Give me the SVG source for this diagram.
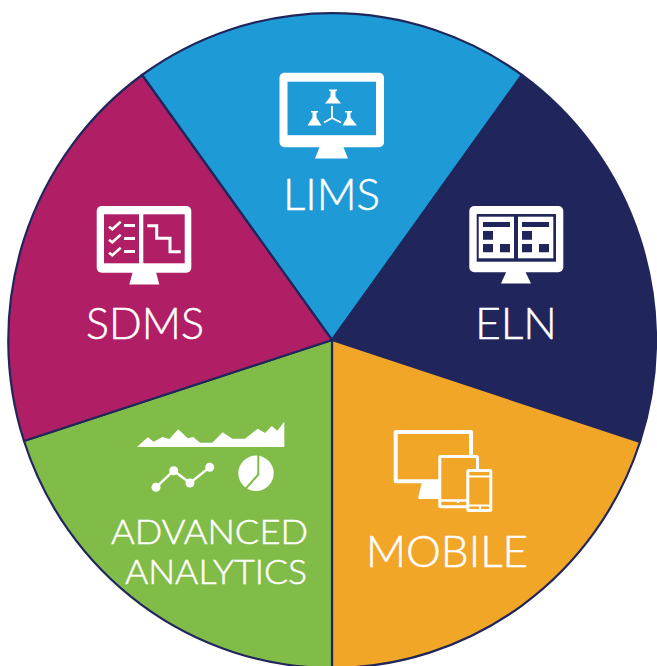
<svg xmlns="http://www.w3.org/2000/svg" width="657" height="666" viewBox="0 0 657 666">
<style>
.wedge{stroke:#20265c;stroke-width:2.200;stroke-linejoin:round}
.w{fill:#fff}
.o{fill:none;stroke:#fff}
text{font-family:"Lato","Liberation Sans",sans-serif;font-weight:300;fill:#fff;stroke:#fff;stroke-width:.5;text-anchor:start}
</style>
<rect width="657" height="666" fill="#fff"/>
<g id="connectors"></g>
<g id="node-lims">
<path class="wedge" fill="#1e9ad6" d="M332 340L142 75A325 328 0 0 1 522 75Z"/>
<rect class="w" x="279.500" y="72.700" width="104.500" height="74.500" rx="5"/>
<rect x="287.500" y="81.700" width="88.500" height="53.500" fill="#1e9ad6"/>
<path class="w" d="M320 146H343L348 158.500H315Z"/>
<path class="w" d="M329 89.500H337V91H335.500V96.500L341 103.500H325L330.500 96.500V91H329Z"/>
<path class="w" d="M311 111H318V112.500H316.500V117.500L321.500 125.500H307.500L312.500 117.500V112.500H311Z"/>
<path class="w" d="M345 111H352V112.500H350.500V117.500L357 125.500H342.500L347 117.500V112.500H345Z"/>
<path class="o" stroke-width="1.800" d="M332 106V118M332 118L324 122.500M332 118L341 122.500"/>
<text x="283" y="210" font-size="43" textLength="97" lengthAdjust="spacingAndGlyphs">LIMS</text>
</g>
<g id="node-eln">
<path class="wedge" fill="#20265c" d="M332 340L522 75A325 328 0 0 1 640 442Z"/>
<rect class="w" x="469.300" y="206" width="94" height="66.300" rx="5"/>
<rect x="476.700" y="214" width="79.300" height="47.700" fill="#20265c"/>
<rect class="w" x="478.700" y="216.700" width="35.300" height="41.600"/>
<rect class="w" x="518" y="216.700" width="35.300" height="41.600"/>
<path fill="#20265c" d="M483 222H510V227H483ZM483 231H493V239.700H483ZM483 244H493V252.300H483ZM500 244H510V252.300H500ZM522 222H549V227H522ZM522 231H532V239.700H522ZM522 244H532V252.300H522ZM539 244H549V252.300H539Z"/>
<path class="w" d="M506.700 271H525L531 283.500H501Z"/>
<text x="475" y="339" font-size="43" textLength="82" lengthAdjust="spacingAndGlyphs">ELN</text>
</g>
<g id="node-mobile">
<path class="wedge" fill="#f2a627" d="M332 340L640 442A325 328 0 0 1 332 668Z"/>
<path class="o" stroke-width="4" stroke-linejoin="round" d="M471 455V432H395.700V481.300H440"/>
<path class="w" d="M422 482H440V499H419.500Q417.500 499 418.500 496Z"/>
<rect x="439.800" y="456.500" width="37.700" height="50.300" rx="1" fill="#f2a627" stroke="#fff" stroke-width="3"/>
<path class="o" stroke-width="2.500" d="M441 500.500H477M458 500V503"/>
<rect x="467.800" y="470.500" width="23" height="40" rx="1" fill="#f2a627" stroke="#fff" stroke-width="3"/>
<path class="o" stroke-width="2" d="M468 476.500H490M468 505.500H490M480 505V509"/>
<text x="366" y="567" font-size="43" textLength="162" lengthAdjust="spacingAndGlyphs">MOBILE</text>
</g>
<g id="node-analytics">
<path class="wedge" fill="#82bc48" d="M332 340L332 668A325 328 0 0 1 24 441Z"/>
<path class="w" d="M137 447L147.700 437.300L153.700 441.700L162.300 437L169.300 439L178.300 429.300L187.700 438.300L193.300 437L200 442.700H212.300L222.700 432.300L232.300 438.700H245L257.700 428.700L265 433L271.700 426L277.300 430.700L284.300 421.700V447Z"/>
<path class="o" stroke-width="2.500" d="M156 487.300L173.700 470.700L190 483L209.700 467.300"/>
<g class="w"><circle cx="156" cy="487.300" r="4.500"/><circle cx="173.700" cy="470.700" r="4.500"/><circle cx="190" cy="483" r="4.500"/><circle cx="209.700" cy="467.300" r="4.500"/></g>
<circle class="w" cx="256" cy="473.300" r="17.700"/>
<path fill="none" stroke="#82bc48" stroke-width="2" d="M258.300 454V474.500L245.500 489"/>
<text x="111" y="544" font-size="34" textLength="197" lengthAdjust="spacingAndGlyphs">ADVANCED</text>
<text x="125" y="584" font-size="34" textLength="182" lengthAdjust="spacingAndGlyphs">ANALYTICS</text>
</g>
<g id="node-sdms">
<path class="wedge" fill="#b01f66" d="M332 340L24 441A325 328 0 0 1 142 75Z"/>
<rect class="w" x="96.700" y="206" width="94.600" height="66.700" rx="5"/>
<rect x="104" y="214.300" width="35" height="49" fill="#b01f66"/>
<rect x="143.300" y="214.300" width="41.400" height="49" fill="#b01f66"/>
<path class="o" stroke-width="2.500" d="M109 226.700L112.300 229.300L120.700 221.700M109 239.700L112.300 242.300L120.700 234.700M109 252.700L112.300 255.300L120.700 247.700"/>
<path class="w" d="M124 224H135V227H124ZM124 237H135V240H124ZM124 250H135V253H124Z"/>
<path class="o" stroke-width="3" d="M147.300 225.700H156.700V238.300H170V251.700H180.700"/>
<path class="w" d="M133 271H155.700L159.300 284.500H129.300Z"/>
<text x="86" y="339" font-size="43" textLength="118" lengthAdjust="spacingAndGlyphs">SDMS</text>
</g>
</svg>
